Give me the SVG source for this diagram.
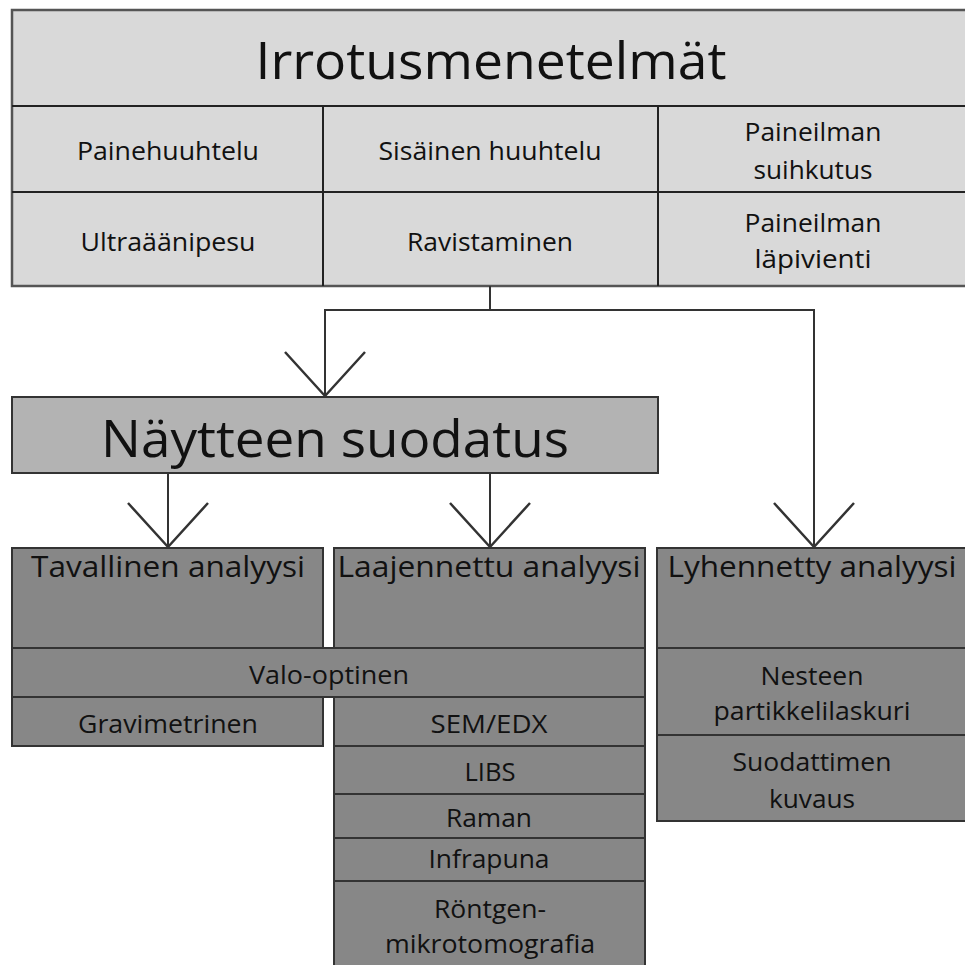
<svg xmlns="http://www.w3.org/2000/svg" width="965" height="965" viewBox="0 0 965 965">
<style>
.t{font-family:"Open Sans","Liberation Sans",sans-serif;fill:#111;text-anchor:middle}
.s{font-size:25px}
.m{font-size:30px}
.l{font-size:52px}
.top{fill:#d9d9d9;stroke:#555;stroke-width:2.5}
.mid{fill:#b3b3b3;stroke:#333;stroke-width:2}
.dk{fill:#878787;stroke:#333;stroke-width:2}
.ln{stroke:#222;stroke-width:2;fill:none}
.con{stroke:#333;stroke-width:2;fill:none}
</style>
<defs>
<marker id="v" viewBox="-48 -44 52 88" markerWidth="52" markerHeight="88" refX="0" refY="0" markerUnits="userSpaceOnUse" orient="auto">
<path d="M-44,-40 L0,0 L-44,40" fill="none" stroke="#333" stroke-width="2.5"/>
</marker>
</defs>
<rect width="965" height="965" fill="#fff"/>

<g id="irrotusmenetelmat">
<rect class="top" x="12" y="10" width="965" height="276"/>
<line class="ln" x1="12" y1="106" x2="977" y2="106" stroke="#555" stroke-width="2.5"/>
<line class="ln" x1="12" y1="192" x2="977" y2="192"/>
<line class="ln" x1="323" y1="106" x2="323" y2="286"/>
<line class="ln" x1="658" y1="106" x2="658" y2="286"/>
<text class="t l" x="491" y="79" textLength="471" lengthAdjust="spacingAndGlyphs">Irrotusmenetelmät</text>
</g>
<g id="painehuuhtelu"><text class="t s" x="168" y="160" textLength="182" lengthAdjust="spacingAndGlyphs">Painehuuhtelu</text></g>
<g id="sisainen-huuhtelu"><text class="t s" x="490" y="160" textLength="223" lengthAdjust="spacingAndGlyphs">Sisäinen huuhtelu</text></g>
<g id="paineilman-suihkutus"><text class="t s" x="813" y="141" textLength="137" lengthAdjust="spacingAndGlyphs">Paineilman</text><text class="t s" x="813" y="179" textLength="119" lengthAdjust="spacingAndGlyphs">suihkutus</text></g>
<g id="ultraaanipesu"><text class="t s" x="168" y="251" textLength="175" lengthAdjust="spacingAndGlyphs">Ultraäänipesu</text></g>
<g id="ravistaminen"><text class="t s" x="490" y="251" textLength="166" lengthAdjust="spacingAndGlyphs">Ravistaminen</text></g>
<g id="paineilman-lapivienti"><text class="t s" x="813" y="232" textLength="137" lengthAdjust="spacingAndGlyphs">Paineilman</text><text class="t s" x="813" y="268" textLength="117" lengthAdjust="spacingAndGlyphs">läpivienti</text></g>

<g id="connectors">
<polyline class="con" points="490,286 490,310"/>
<polyline class="con" points="490,310 325,310 325,396" marker-end="url(#v)"/>
<polyline class="con" points="490,310 814,310 814,547" marker-end="url(#v)"/>
<polyline class="con" points="168,473 168,547" marker-end="url(#v)"/>
<polyline class="con" points="490,473 490,547" marker-end="url(#v)"/>
</g>

<g id="naytteen-suodatus">
<rect class="mid" x="12" y="397" width="646" height="76"/>
<text class="t l" x="335" y="457" textLength="468" lengthAdjust="spacingAndGlyphs">Näytteen suodatus</text>
</g>

<g id="tavallinen-analyysi">
<rect class="dk" x="12" y="548" width="311" height="100"/>
<text class="t m" x="168" y="577" textLength="274" lengthAdjust="spacingAndGlyphs">Tavallinen analyysi</text>
</g>
<g id="laajennettu-analyysi">
<rect class="dk" x="334" y="548" width="311" height="100"/>
<text class="t m" x="489" y="577" textLength="303" lengthAdjust="spacingAndGlyphs">Laajennettu analyysi</text>
</g>
<g id="lyhennetty-analyysi">
<rect class="dk" x="657" y="548" width="320" height="100"/>
<text class="t m" x="812" y="577" textLength="289" lengthAdjust="spacingAndGlyphs">Lyhennetty analyysi</text>
</g>
<g id="valo-optinen">
<rect class="dk" x="12" y="648" width="633" height="49"/>
<text class="t s" x="329" y="684" textLength="160" lengthAdjust="spacingAndGlyphs">Valo-optinen</text>
</g>
<g id="gravimetrinen">
<rect class="dk" x="12" y="697" width="311" height="49"/>
<text class="t s" x="168" y="733" textLength="180" lengthAdjust="spacingAndGlyphs">Gravimetrinen</text>
</g>
<g id="sem-edx">
<rect class="dk" x="334" y="697" width="311" height="49"/>
<text class="t s" x="489" y="733" textLength="117" lengthAdjust="spacingAndGlyphs">SEM/EDX</text>
</g>
<g id="libs">
<rect class="dk" x="334" y="746" width="311" height="48"/>
<text class="t s" x="490" y="781" textLength="51" lengthAdjust="spacingAndGlyphs">LIBS</text>
</g>
<g id="raman">
<rect class="dk" x="334" y="794" width="311" height="44"/>
<text class="t s" x="489" y="827" textLength="86" lengthAdjust="spacingAndGlyphs">Raman</text>
</g>
<g id="infrapuna">
<rect class="dk" x="334" y="838" width="311" height="43"/>
<text class="t s" x="489" y="868" textLength="121" lengthAdjust="spacingAndGlyphs">Infrapuna</text>
</g>
<g id="rontgen-mikrotomografia">
<rect class="dk" x="334" y="881" width="311" height="100"/>
<text class="t s" x="490" y="918" textLength="112" lengthAdjust="spacingAndGlyphs">Röntgen-</text>
<text class="t s" x="490" y="953" textLength="210" lengthAdjust="spacingAndGlyphs">mikrotomografia</text>
</g>
<g id="nesteen-partikkelilaskuri">
<rect class="dk" x="657" y="648" width="320" height="87"/>
<text class="t s" x="812" y="685" textLength="103" lengthAdjust="spacingAndGlyphs">Nesteen</text>
<text class="t s" x="812" y="720" textLength="197" lengthAdjust="spacingAndGlyphs">partikkelilaskuri</text>
</g>
<g id="suodattimen-kuvaus">
<rect class="dk" x="657" y="735" width="320" height="86"/>
<text class="t s" x="812" y="771" textLength="159" lengthAdjust="spacingAndGlyphs">Suodattimen</text>
<text class="t s" x="812" y="808" textLength="86" lengthAdjust="spacingAndGlyphs">kuvaus</text>
</g>
</svg>
